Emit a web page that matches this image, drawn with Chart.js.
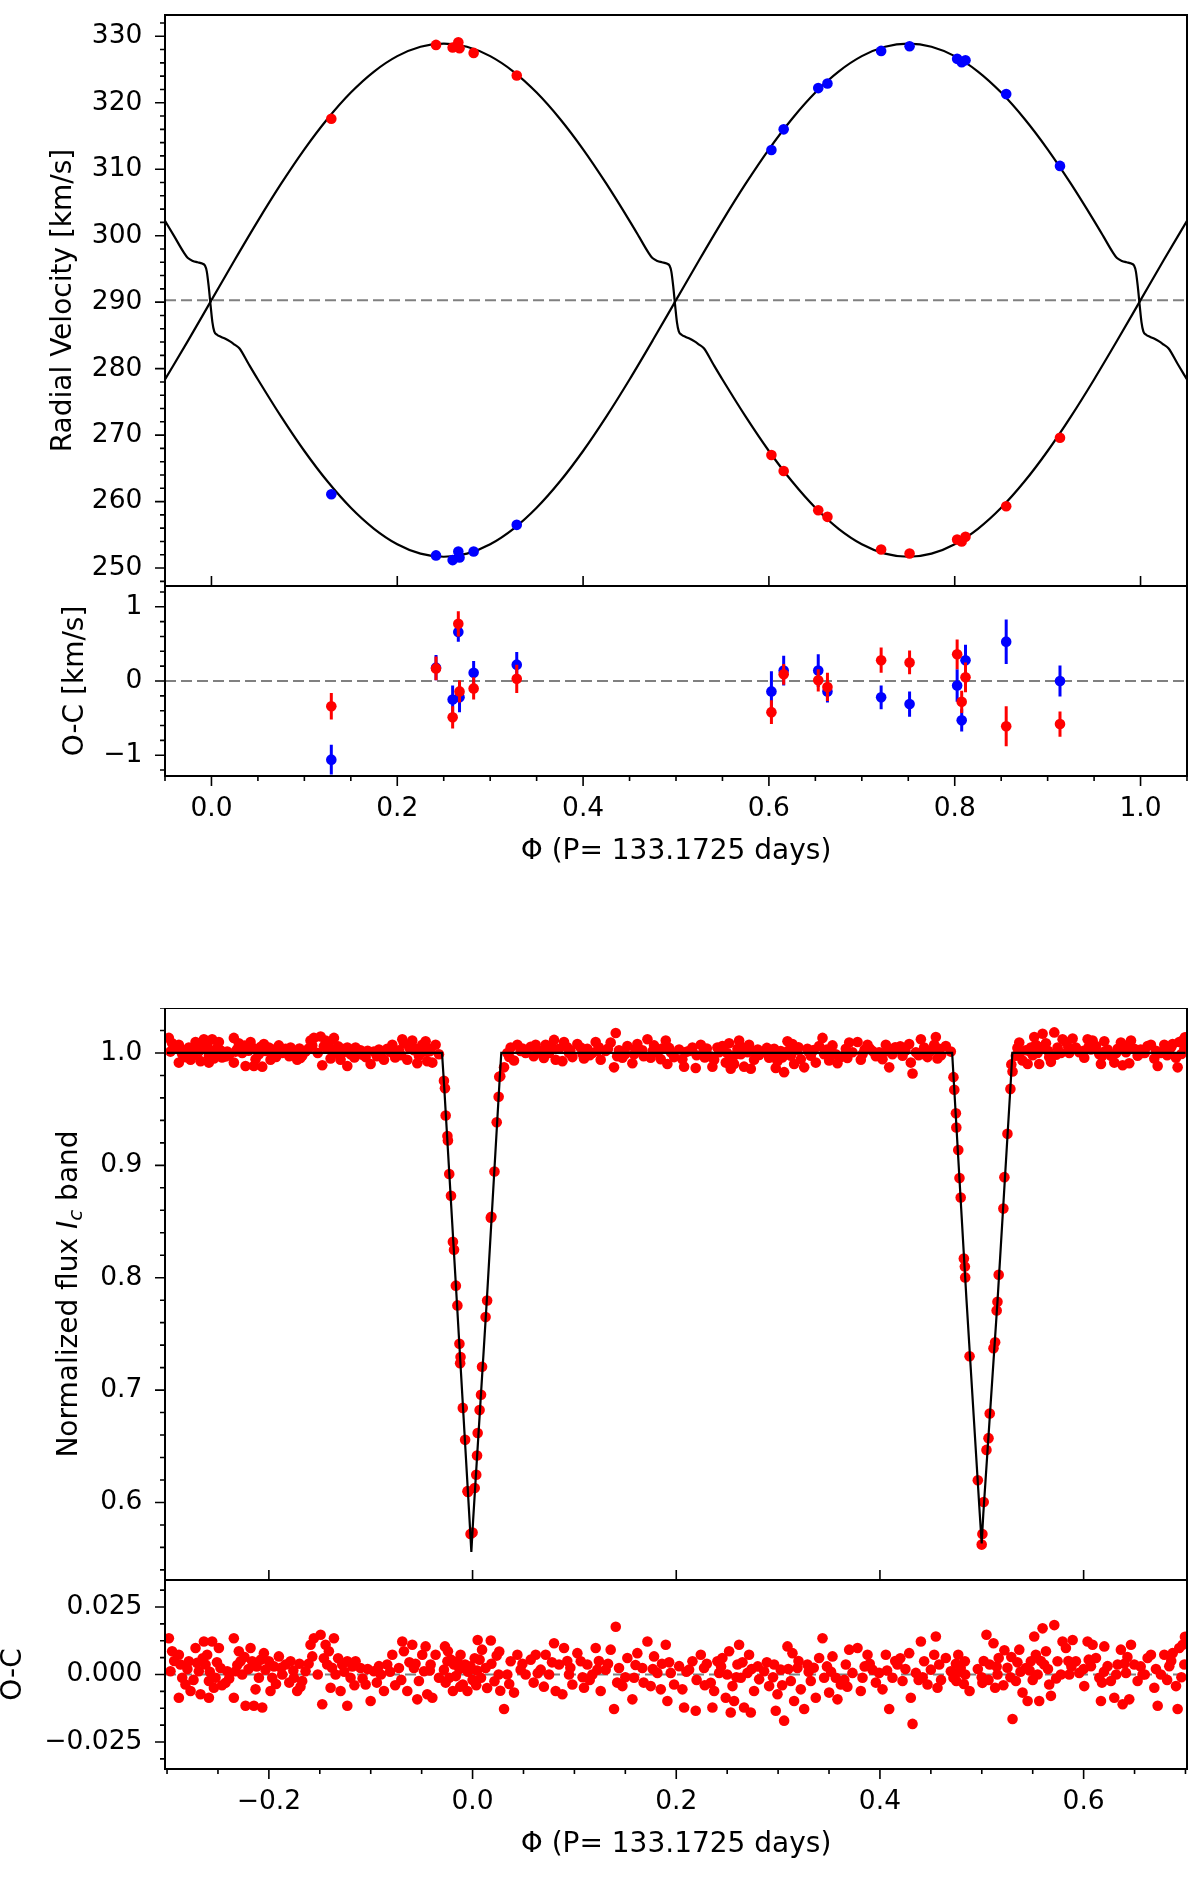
<!DOCTYPE html>
<html>
<head>
<meta charset="utf-8">
<script src="https://cdn.jsdelivr.net/npm/chart.js@4.4.1/dist/chart.umd.min.js"></script>
<style>
  html, body { margin: 0; padding: 0; background: #fff; }
  body { width: 1200px; height: 1877px; position: relative; overflow: hidden; }
  .panel { position: absolute; left: 0; width: 1200px; }
</style>
</head>
<body>
<div class="panel" style="top:0;height:586px"><canvas id="rv"></canvas></div>
<div class="panel" style="top:586px;height:285px"><canvas id="rvoc"></canvas></div>
<div class="panel" style="top:1008px;height:572px"><canvas id="lc"></canvas></div>
<div class="panel" style="top:1580px;height:284px"><canvas id="lcoc"></canvas></div>
<script>
// ---- radial velocities (phase, km/s) ----
const rvPhase = [0.129, 0.2417, 0.2596, 0.2657, 0.267, 0.2822, 0.3286, 0.6027, 0.6159,
  0.6531, 0.663, 0.7208, 0.7514, 0.8026, 0.8075, 0.8116, 0.8554, 0.9133];
const rvPrimary = [317.6, 328.7, 328.3, 329.1, 328.2, 327.5, 324.1, 267.0, 264.6,
  258.7, 257.7, 252.8, 252.2, 254.3, 254.0, 254.7, 259.3, 269.6];
const rvSecondary = [261.1, 251.9, 251.2, 252.5, 251.6, 252.5, 256.5, 312.9, 316.0,
  322.2, 322.9, 327.8, 328.5, 326.6, 326.1, 326.4, 321.3, 310.5];
const ocPrimary = [-0.34, 0.17, -0.49, 0.77, -0.14, -0.10, 0.03, -0.42, 0.09,
  0.01, -0.08, 0.28, 0.25, 0.36, -0.28, 0.05, -0.61, -0.58];
const errPrimary = [0.18, 0.16, 0.15, 0.17, 0.15, 0.15, 0.19, 0.16, 0.14,
  0.15, 0.19, 0.17, 0.16, 0.20, 0.15, 0.20, 0.27, 0.17];
const ocSecondary = [-1.06, 0.18, -0.25, 0.66, -0.22, 0.11, 0.22, -0.14, 0.14,
  0.14, -0.14, -0.22, -0.31, -0.06, -0.53, 0.28, 0.53, 0.00];
const errSecondary = [0.20, 0.17, 0.19, 0.13, 0.20, 0.16, 0.17, 0.27, 0.20,
  0.22, 0.15, 0.16, 0.17, 0.22, 0.15, 0.21, 0.30, 0.21];
const rvGamma = 290.3;

// model curves
const rvModelPhaseP = [-0.05,-0.025,0,0.025,0.05,0.075,0.1,0.125,0.15,0.175,0.2,0.225,0.25,0.275,0.3,0.325,0.35,0.375,0.4,0.425,0.45,
  0.46,0.47,0.475,0.48,0.485,0.49,0.493,0.495,0.497,0.499,
  0.501,0.503,0.506,0.51,0.515,0.52,0.525,0.53,0.54,
  0.55,0.575,0.6,0.625,0.65,0.675,0.7,0.725,0.75,0.775,0.8,0.825,0.85,0.875,0.9,0.925,0.95,0.975,1.0,1.025,1.05];
const rvModelP = [278.37,284.26,290.3,296.34,302.23,307.82,312.99,317.59,321.53,324.69,327.01,328.43,328.9,328.43,327.01,324.69,321.53,317.59,312.99,307.82,302.23,
  299.9,297.53,296.6,296.2,296.0,295.8,295.5,294.6,292.4,289.6,
  287.0,285.6,285.1,284.8,284.5,284.1,283.6,283.07,280.7,
  278.37,272.78,267.61,263.01,259.07,255.91,253.59,252.17,251.7,252.17,253.59,255.91,259.07,263.01,267.61,272.78,278.37,284.26,290.3,296.34,302.23];
const rvModelPhaseS = [-0.05,-0.04,-0.03,-0.025,-0.02,-0.015,-0.01,-0.007,-0.005,-0.003,-0.001,
  0.001,0.003,0.006,0.01,0.015,0.02,0.025,0.03,0.04,
  0.05,0.075,0.1,0.125,0.15,0.175,0.2,0.225,0.25,
  0.275,0.3,0.325,0.35,0.375,0.4,0.425,0.45,0.475,0.5,
  0.525,0.55,0.575,0.6,0.625,0.65,0.675,0.7,0.725,0.75,
  0.775,0.8,0.825,0.85,0.875,0.9,0.925,0.95,
  0.96,0.97,0.975,0.98,0.985,0.99,0.993,0.995,0.997,0.999,
  1.001,1.003,1.006,1.01,1.015,1.02,1.025,1.03,1.04,1.05];
const rvModelS = [302.23,299.9,297.53,296.6,296.2,296.0,295.8,295.5,294.6,292.4,289.6,
  287.0,285.6,285.1,284.8,284.5,284.1,283.6,283.07,280.7,
  278.37,272.78,267.61,263.01,259.07,255.91,253.59,252.17,251.7,
  252.17,253.59,255.91,259.07,263.01,267.61,272.78,278.37,284.26,290.3,
  296.34,302.23,307.82,312.99,317.59,321.53,324.69,327.01,328.43,328.9,
  328.43,327.01,324.69,321.53,317.59,312.99,307.82,302.23,
  299.9,297.53,296.6,296.2,296.0,295.8,295.5,294.6,292.4,289.6,
  287.0,285.6,285.1,284.8,284.5,284.1,283.6,283.07,280.7,278.37];

// ---- light curve model (phase, normalized flux) ----
const lcModelPhase = [-0.30,-0.0300,-0.0280,-0.0150,-0.0030,-0.0012,0.0006,0.0140,0.0265,0.0282,
  0.4709,0.4725,0.4850,0.4980,0.4999,0.5015,0.5155,0.5285,0.5300,0.70];
const lcModelFlux = [1.0,1.0,0.972,0.772,0.585,0.556,0.585,0.780,0.975,1.0,
  1.0,0.975,0.780,0.590,0.5635,0.590,0.780,0.975,1.0,1.0];

// ---- photometry: phase and O-C residual ----
const lcPhase = [
  -0.2982,-0.2966,-0.2950,-0.2884,-0.2884,-0.2868,-0.2851,-0.2819,-0.2786,-0.2769,
  -0.2720,-0.2705,-0.2688,-0.2671,-0.2638,-0.2622,-0.2606,-0.2589,-0.2589,-0.2580,
  -0.2557,-0.2540,-0.2524,-0.2491,-0.2475,-0.2460,-0.2426,-0.2409,-0.2344,-0.2344,
  -0.2327,-0.2295,-0.2278,-0.2262,-0.2229,-0.2200,-0.2180,-0.2164,-0.2147,-0.2131,
  -0.2098,-0.2065,-0.2049,-0.2033,-0.2000,-0.1984,-0.1967,-0.1950,-0.1902,-0.1869,
  -0.1836,-0.1800,-0.1787,-0.1754,-0.1722,-0.1700,-0.1673,-0.1640,-0.1591,-0.1574,
  -0.1558,-0.1520,-0.1492,-0.1476,-0.1443,-0.1427,-0.1411,-0.1394,-0.1361,-0.1345,
  -0.1320,-0.1296,-0.1280,-0.1230,-0.1230,-0.1198,-0.1180,-0.1149,-0.1100,-0.1080,
  -0.1050,-0.1001,-0.0969,-0.0919,-0.0900,-0.0870,-0.0838,-0.0788,-0.0760,-0.0723,
  -0.0690,-0.0674,-0.0641,-0.0620,-0.0592,-0.0576,-0.0543,-0.0527,-0.0494,-0.0477,
  -0.0461,-0.0445,-0.0412,-0.0395,-0.0363,-0.0330,
  -0.0281,-0.0271,-0.0264,-0.0247,-0.0242,-0.0229,-0.0212,-0.0193,-0.0182,-0.0164,
  -0.0149,-0.0129,-0.0122,-0.0118,-0.0096,-0.0073,-0.0050,-0.0045,-0.0020,0.0000,
  0.0021,0.0036,0.0044,0.0050,0.0069,0.0083,0.0093,0.0128,0.0143,0.0179,
  0.0185,0.0215,0.0237,0.0256,0.0262,0.0272,
  0.0309,0.0341,0.0374,0.0407,0.0440,0.0472,0.0521,0.0571,0.0600,0.0620,
  0.0669,0.0700,0.0718,0.0751,0.0800,0.0816,0.0849,0.0882,0.0898,0.0930,
  0.0947,0.0980,0.1029,0.1062,0.1094,0.1127,0.1150,0.1176,0.1209,0.1225,
  0.1258,0.1307,0.1330,0.1356,0.1389,0.1406,0.1438,0.1471,0.1500,0.1520,
  0.1569,0.1586,0.1618,0.1667,0.1680,0.1717,0.1749,0.1782,0.1815,0.1848,
  0.1860,0.1897,0.1913,0.1946,0.1979,0.2028,
  0.2060,0.2077,0.2126,0.2159,0.2191,0.2200,0.2241,0.2273,0.2300,0.2339,
  0.2355,0.2372,0.2404,0.2421,0.2453,0.2486,0.2500,0.2519,0.2535,0.2552,
  0.2568,0.2601,0.2617,0.2634,0.2650,0.2666,0.2699,0.2715,0.2732,0.2764,
  0.2800,0.2814,0.2863,0.2912,0.2950,0.2961,0.2977,0.2994,0.3026,0.3059,
  0.3092,0.3100,0.3125,0.3141,0.3157,0.3190,0.3223,0.3256,0.3288,0.3300,
  0.3321,0.3370,0.3403,0.3436,0.3452,0.3480,0.3501,0.3534,0.3567,0.3583,
  0.3616,0.3650,0.3665,0.3698,0.3730,0.3780,0.3812,0.3829,0.3850,0.3878,
  0.3927,0.3960,0.3992,0.4025,0.4058,0.4091,0.4123,0.4150,0.4172,0.4222,
  0.4250,0.4287,0.4303,0.4320,0.4353,0.4380,0.4402,0.4434,0.4467,0.4500,
  0.4533,0.4549,0.4565,0.4582,0.4647,0.4696,
  0.4722,0.4730,0.4746,0.4750,0.4769,0.4781,0.4793,0.4824,0.4834,0.4837,
  0.4880,0.4961,0.4999,0.5006,0.5019,0.5046,0.5066,0.5078,0.5115,0.5131,
  0.5146,0.5154,0.5166,0.5212,0.5222,0.5252,0.5281,0.5290,
  0.5302,0.5335,0.5368,0.5380,0.5400,0.5433,0.5450,0.5482,0.5500,0.5515,
  0.5531,0.5548,0.5564,0.5597,0.5613,0.5630,0.5650,0.5662,0.5679,0.5712,
  0.5744,0.5777,0.5793,0.5826,0.5850,0.5859,0.5892,0.5924,0.5957,0.6000,
  0.6006,0.6039,0.6072,0.6088,0.6121,0.6154,0.6170,0.6200,0.6203,0.6235,
  0.6268,0.6301,0.6334,0.6366,0.6383,0.6400,0.6416,0.6448,0.6465,0.6497,
  0.6530,0.6579,0.6600,0.6628,0.6661,0.6694,0.6727,0.6759,0.6792,0.6820,
  0.6841,0.6874,0.6907,0.6923,0.6939,0.6972,0.6989,0.6995,
  -0.2930,-0.2800,-0.2740,-0.2650,-0.2510,-0.2390,-0.2310,-0.2240,-0.2120,-0.2080,
  -0.1930,-0.1880,-0.1760,-0.1690,-0.1610,-0.1460,-0.1380,-0.1260,-0.1160,-0.1030,
  -0.0940,-0.0810,-0.0700,-0.0560,-0.0420,0.0360,0.0490,0.0640,0.0780,0.0960,
  0.1080,0.1240,0.1420,0.1600,0.1770,0.1930,0.2100,0.2280,0.2440,0.2590,
  0.2740,0.2890,0.3040,0.3200,0.3350,0.3520,0.3680,0.3900,0.4070,0.4200,
  0.4420,0.4600,0.5350,0.5470,0.5580,0.5730,0.5880,0.6050,0.6180,0.6320,
  0.6430,0.6560,0.6710,0.6860,0.6960
];
const lcResid = [
  0.0134,0.0012,0.0086,0.0073,-0.0086,0.0037,-0.0012,-0.0037,0.0049,-0.0061,
  0.0098,0.0043,0.0012,-0.0073,0.0122,0.0037,0.0073,-0.0024,-0.0086,0.0010,
  0.0122,-0.0049,-0.0012,0.0098,0.0024,-0.0040,-0.0031,0.0012,0.0134,-0.0086,
  0.0012,0.0086,0.0049,0.0000,-0.0116,0.0020,0.0098,0.0049,-0.0116,-0.0055,
  -0.0012,-0.0122,0.0079,0.0018,0.0049,-0.0061,-0.0012,0.0030,0.0067,0.0000,
  0.0037,-0.0030,0.0049,-0.0012,-0.0061,0.0040,-0.0024,0.0012,0.0110,0.0067,
  0.0134,0.0000,0.0147,-0.0110,0.0110,0.0037,0.0086,-0.0049,0.0134,0.0000,
  0.0060,-0.0061,0.0037,-0.0116,0.0049,-0.0012,0.0030,0.0049,0.0024,-0.0015,
  -0.0037,-0.0098,0.0012,0.0031,0.0000,-0.0061,0.0037,0.0073,-0.0040,0.0024,
  0.0122,0.0086,-0.0061,0.0045,0.0110,0.0024,-0.0092,-0.0024,0.0073,0.0012,
  0.0104,-0.0073,0.0037,-0.0086,0.0073,-0.0012,
  0.0018,0.0104,-0.0030,0.0049,0.0086,-0.0012,0.0055,-0.0061,0.0037,-0.0006,
  0.0049,0.0020,-0.0045,0.0073,-0.0037,0.0037,-0.0061,0.0010,0.0030,-0.0020,
  0.0060,-0.0040,0.0015,0.0128,0.0055,-0.0012,0.0092,0.0024,-0.0050,0.0126,
  0.0040,-0.0025,0.0070,0.0000,0.0085,-0.0060,
  -0.0128,0.0000,0.0049,-0.0067,0.0073,0.0018,0.0000,0.0055,-0.0030,0.0073,
  0.0018,-0.0045,0.0073,0.0000,0.0116,-0.0061,0.0037,-0.0073,0.0098,0.0050,
  0.0000,-0.0037,0.0079,0.0049,-0.0049,0.0037,-0.0020,0.0000,0.0098,0.0018,
  -0.0061,0.0018,0.0040,0.0092,-0.0128,0.0177,0.0024,-0.0043,-0.0010,0.0061,
  -0.0092,-0.0012,0.0079,0.0024,-0.0030,0.0122,-0.0043,0.0067,0.0006,-0.0055,
  0.0040,0.0110,-0.0098,0.0006,-0.0037,0.0031,
  -0.0055,-0.0122,0.0018,0.0049,-0.0134,-0.0020,0.0073,0.0024,0.0040,-0.0031,
  -0.0122,-0.0061,0.0049,0.0006,0.0061,-0.0086,0.0000,0.0086,-0.0141,-0.0043,
  -0.0098,0.0037,0.0110,-0.0012,0.0045,-0.0122,0.0006,0.0073,-0.0141,-0.0061,
  0.0030,-0.0018,0.0012,-0.0043,-0.0010,0.0037,-0.0134,-0.0073,0.0018,-0.0171,
  0.0104,0.0020,-0.0024,0.0079,-0.0098,0.0024,-0.0055,-0.0128,0.0037,0.0010,
  -0.0024,-0.0086,0.0061,0.0134,-0.0012,0.0030,-0.0067,0.0067,-0.0012,-0.0092,
  -0.0037,-0.0020,0.0037,0.0092,0.0006,0.0098,-0.0061,-0.0012,0.0030,0.0073,
  0.0018,-0.0030,0.0006,-0.0055,0.0073,-0.0128,-0.0012,0.0050,0.0037,-0.0024,
  0.0020,0.0079,-0.0086,-0.0183,0.0006,-0.0020,0.0122,0.0049,-0.0037,0.0018,
  0.0073,0.0141,-0.0049,0.0037,0.0061,0.0012,
  -0.0012,0.0000,0.0040,-0.0024,0.0073,0.0010,0.0024,-0.0035,0.0049,0.0000,
  -0.0061,0.0020,-0.0010,-0.0031,0.0050,0.0147,-0.0020,0.0037,0.0116,-0.0049,
  0.0030,0.0000,0.0061,-0.0040,0.0090,0.0025,-0.0010,0.0065,
  -0.0165,-0.0024,0.0092,0.0010,-0.0067,0.0024,-0.0098,0.0049,-0.0020,0.0141,
  0.0073,0.0000,-0.0098,0.0171,0.0037,0.0086,0.0020,-0.0037,-0.0079,0.0183,
  0.0049,0.0000,0.0122,0.0098,0.0050,0.0000,0.0128,0.0049,0.0006,0.0020,
  -0.0043,0.0122,0.0031,0.0110,0.0061,-0.0012,-0.0098,0.0010,0.0104,0.0031,
  -0.0024,-0.0086,0.0037,0.0092,-0.0110,0.0040,0.0006,-0.0092,0.0110,0.0037,
  -0.0024,0.0000,0.0000,0.0061,0.0073,-0.0049,-0.0116,0.0000,0.0073,-0.0020,
  0.0031,0.0079,-0.0043,-0.0128,0.0098,0.0110,0.0037,0.0140,
  0.0050,0.0020,-0.0020,0.0060,0.0045,-0.0015,0.0035,0.0065,0.0030,0.0055,
  -0.0035,0.0025,0.0015,-0.0045,0.0040,0.0060,0.0025,0.0010,-0.0040,0.0020,
  -0.0030,0.0010,-0.0020,0.0040,0.0015,-0.0035,0.0040,0.0005,0.0045,0.0025,
  -0.0010,0.0050,-0.0030,0.0035,0.0020,0.0045,0.0010,-0.0040,0.0030,-0.0010,
  0.0020,0.0045,-0.0040,0.0050,0.0025,0.0010,-0.0045,0.0040,0.0015,0.0060,
  -0.0010,-0.0020,0.0045,0.0015,0.0050,-0.0015,0.0030,0.0055,-0.0030,0.0000,
  0.0065,0.0030,0.0020,0.0050,-0.0010
];

// ---- ticks ----
const rvXTicks = [0, 0.2, 0.4, 0.6, 0.8, 1.0];
const rvXLabels = ['0.0', '0.2', '0.4', '0.6', '0.8', '1.0'];
const rvYTicks = [250, 260, 270, 280, 290, 300, 310, 320, 330];
const rvYLabels = ['250', '260', '270', '280', '290', '300', '310', '320', '330'];
const rvOcTicks = [-1, 0, 1];
const rvOcLabels = ['\u22121', '0', '1'];
const lcXTicks = [-0.2, 0, 0.2, 0.4, 0.6];
const lcXLabels = ['\u22120.2', '0.0', '0.2', '0.4', '0.6'];
const lcYTicks = [0.6, 0.7, 0.8, 0.9, 1.0];
const lcYLabels = ['0.6', '0.7', '0.8', '0.9', '1.0'];
const lcOcTicks = [-0.025, 0, 0.025];
const lcOcLabels = ['\u22120.025', '0.000', '0.025'];

const xTitle = '\u03A6 (P= 133.1725 days)';
const FONT = '"DejaVu Sans", sans-serif';
Chart.defaults.font.family = FONT;
Chart.defaults.color = '#000';
Chart.defaults.animation = false;

function steps(a, b, s) {
  const out = [];
  for (let v = a; v <= b + s / 1000; v += s) out.push(+v.toFixed(6));
  return out;
}
function interp(xs, ys, x) {
  for (let i = 1; i < xs.length; i++) {
    if (x <= xs[i]) {
      const t = (x - xs[i - 1]) / (xs[i] - xs[i - 1]);
      return ys[i - 1] + t * (ys[i] - ys[i - 1]);
    }
  }
  return ys[ys.length - 1];
}
const pts = (xs, ys) => xs.map((x, i) => ({x: x, y: ys[i]}));

// ticks, box and y title drawn like matplotlib
const frame = {
  id: 'frame',
  afterDraw(chart, args, o) {
    const {ctx, chartArea: a, scales: {x, y}} = chart;
    ctx.save();
    ctx.strokeStyle = '#000';
    ctx.lineWidth = 1.6;
    ctx.beginPath();
    const yTick = (v, len) => { const p = y.getPixelForValue(v); ctx.moveTo(a.left - len, p); ctx.lineTo(a.left, p); };
    o.yMajor.forEach(v => yTick(v, 10));
    o.yMinor.forEach(v => yTick(v, 5));
    o.xMajor.forEach(v => {
      const p = x.getPixelForValue(v);
      ctx.moveTo(p, a.bottom);
      ctx.lineTo(p, o.xIn ? a.bottom - 10 : a.bottom + 10);
    });
    (o.xMinor || []).forEach(v => {
      const p = x.getPixelForValue(v);
      ctx.moveTo(p, a.bottom); ctx.lineTo(p, a.bottom + 5);
    });
    ctx.stroke();
    ctx.lineWidth = 2;
    ctx.strokeRect(a.left, a.top, a.right - a.left, a.bottom - a.top);

    ctx.translate(o.titleX, (a.top + a.bottom) / 2);
    ctx.rotate(-Math.PI / 2);
    ctx.fillStyle = '#000';
    ctx.textBaseline = 'alphabetic';
    ctx.textAlign = 'left';
    const parts = o.title.map(s => ({
      text: s.text,
      font: (s.italic ? 'italic ' : '') + (s.sub ? 20 : 28) + 'px ' + FONT,
      dy: s.sub ? 15 : 10
    }));
    let w = 0;
    parts.forEach(p => { ctx.font = p.font; p.w = ctx.measureText(p.text).width; w += p.w; });
    let cx = -w / 2;
    parts.forEach(p => { ctx.font = p.font; ctx.fillText(p.text, cx, p.dy); cx += p.w; });
    ctx.restore();
  }
};

// vertical error bars, drawn just before each dataset's markers
const errorBars = {
  id: 'errorBars',
  beforeDatasetDraw(chart, args) {
    const ds = chart.data.datasets[args.index];
    if (!ds.errors) return;
    const {ctx, chartArea: a, scales: {x, y}} = chart;
    ctx.save();
    ctx.beginPath();
    ctx.rect(a.left, a.top, a.right - a.left, a.bottom - a.top);
    ctx.clip();
    ctx.strokeStyle = ds.pointBackgroundColor;
    ctx.lineWidth = 3;
    ctx.beginPath();
    ds.data.forEach((p, i) => {
      const px = x.getPixelForValue(p.x);
      ctx.moveTo(px, y.getPixelForValue(p.y - ds.errors[i]));
      ctx.lineTo(px, y.getPixelForValue(p.y + ds.errors[i]));
    });
    ctx.stroke();
    ctx.restore();
  }
};

function axisX(min, max, ticks, labels, show) {
  return {
    type: 'linear', min: min, max: max, display: show,
    grid: {display: false, drawTicks: false}, border: {display: false},
    afterBuildTicks: s => { s.ticks = ticks.map(v => ({value: v})); },
    afterFit: s => { s.height = show ? 95 : 0; s.paddingLeft = 0; s.paddingRight = 0; },
    ticks: {padding: 17, font: {size: 26.5}, maxRotation: 0, autoSkip: false, callback: (v, i) => labels[i]},
    title: {display: true, text: xTitle, font: {size: 28}, padding: {top: 0, bottom: 2}}
  };
}
function axisY(min, max, ticks, labels) {
  return {
    type: 'linear', min: min, max: max,
    grid: {display: false, drawTicks: false}, border: {display: false},
    afterBuildTicks: s => { s.ticks = ticks.map(v => ({value: v})); },
    afterFit: s => { s.width = 165; s.paddingTop = 0; s.paddingBottom = 0; },
    ticks: {padding: 22.6, font: {size: 26.5}, autoSkip: false, callback: (v, i) => labels[i]}
  };
}
const dots = (data, color, order, extra) => Object.assign({
  data: data, showLine: false, pointRadius: 5.3, pointHoverRadius: 5.3,
  pointBackgroundColor: color, pointBorderWidth: 0, order: order, clip: 0
}, extra || {});
const curve = (data, order, extra) => Object.assign({
  data: data, showLine: true, pointRadius: 0, borderColor: '#000', borderWidth: 2.2,
  order: order, clip: 0
}, extra || {});
const dashed = (x0, x1, v, order) => ({
  data: [{x: x0, y: v}, {x: x1, y: v}], showLine: true, pointRadius: 0,
  borderColor: '#808080', borderWidth: 2, borderDash: [11, 5], order: order, clip: 0
});
const base = (padTop, scales, frameOpts) => ({
  responsive: true, maintainAspectRatio: false, events: [],
  layout: {padding: {top: padTop, right: 13, left: 0, bottom: 0}, autoPadding: false},
  plugins: {legend: {display: false}, tooltip: {enabled: false}, frame: frameOpts},
  scales: scales
});

// panel 1: radial velocities
new Chart(document.getElementById('rv'), {
  type: 'scatter',
  data: {datasets: [
    dots(pts(rvPhase, rvPrimary), '#ff0000', 0),
    dots(pts(rvPhase, rvSecondary), '#0000ff', 1),
    curve(pts(rvModelPhaseP, rvModelP), 2, {cubicInterpolationMode: 'monotone'}),
    curve(pts(rvModelPhaseS, rvModelS), 3, {cubicInterpolationMode: 'monotone'}),
    dashed(-0.05, 1.05, rvGamma, 4)
  ]},
  options: base(15, {
    x: axisX(-0.05, 1.05, rvXTicks, rvXLabels, false),
    y: axisY(247.3, 333.2, rvYTicks, rvYLabels)
  }, {
    yMajor: rvYTicks, yMinor: steps(248, 332, 2), xMajor: rvXTicks, xIn: true,
    titleX: 61, title: [{text: 'Radial Velocity [km/s]'}]
  }),
  plugins: [frame]
});

// panel 2: RV residuals
new Chart(document.getElementById('rvoc'), {
  type: 'scatter',
  data: {datasets: [
    dots(pts(rvPhase, ocPrimary), '#ff0000', 0, {errors: errPrimary}),
    dots(pts(rvPhase, ocSecondary), '#0000ff', 1, {errors: errSecondary}),
    dashed(-0.05, 1.05, 0, 2)
  ]},
  options: base(0, {
    x: axisX(-0.05, 1.05, rvXTicks, rvXLabels, true),
    y: axisY(-1.28, 1.28, rvOcTicks, rvOcLabels)
  }, {
    yMajor: rvOcTicks, yMinor: steps(-1.2, 1.2, 0.2), xMajor: rvXTicks,
    xMinor: steps(-0.05, 1.05, 0.05), xIn: false,
    titleX: 72.7, title: [{text: 'O-C [km/s]'}]
  }),
  plugins: [frame, errorBars]
});

// panel 3: light curve = model + residual
const lcFlux = lcPhase.map((p, i) => interp(lcModelPhase, lcModelFlux, p) + lcResid[i]);
new Chart(document.getElementById('lc'), {
  type: 'scatter',
  data: {datasets: [
    curve(pts(lcModelPhase, lcModelFlux), 0, {tension: 0}),
    dots(pts(lcPhase, lcFlux), '#ff0000', 1)
  ]},
  options: base(0, {
    x: axisX(-0.302, 0.7015, lcXTicks, lcXLabels, false),
    y: axisY(0.531, 1.040, lcYTicks, lcYLabels)
  }, {
    yMajor: lcYTicks, yMinor: steps(0.54, 1.04, 0.02), xMajor: lcXTicks, xIn: true,
    titleX: 67,
    title: [{text: 'Normalized flux '}, {text: 'I', italic: true}, {text: 'c', italic: true, sub: true}, {text: ' band'}]
  }),
  plugins: [frame]
});

// panel 4: light-curve residuals
new Chart(document.getElementById('lcoc'), {
  type: 'scatter',
  data: {datasets: [
    dots(pts(lcPhase, lcResid), '#ff0000', 0),
    dashed(-0.302, 0.7015, 0, 1)
  ]},
  options: base(0, {
    x: axisX(-0.302, 0.7015, lcXTicks, lcXLabels, true),
    y: axisY(-0.035, 0.035, lcOcTicks, lcOcLabels)
  }, {
    yMajor: lcOcTicks, yMinor: steps(-0.03125, 0.03125, 0.00625), xMajor: lcXTicks,
    xMinor: steps(-0.3, 0.7, 0.05), xIn: false,
    titleX: 10.7, title: [{text: 'O-C'}]
  }),
  plugins: [frame]
});
</script>
</body>
</html>
